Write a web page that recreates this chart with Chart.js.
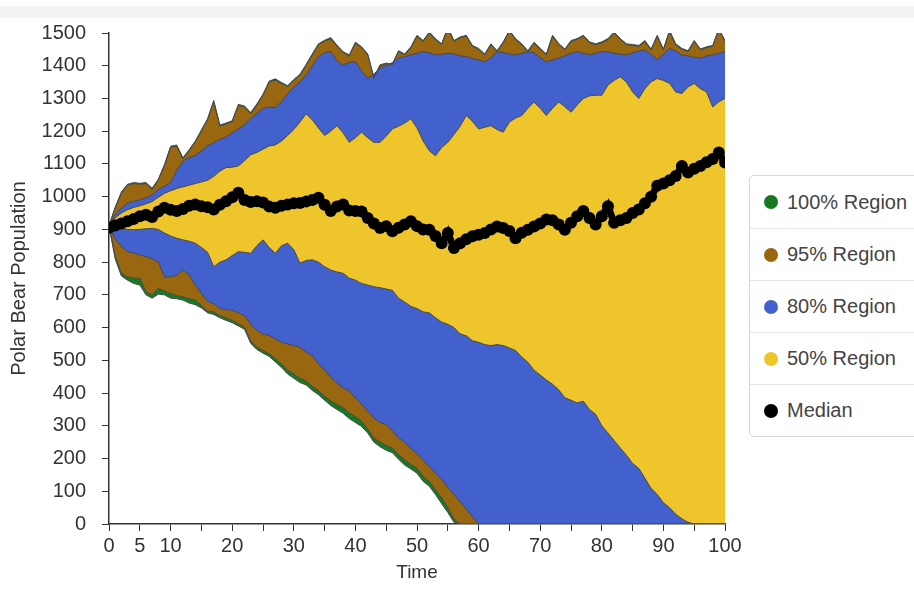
<!DOCTYPE html>
<html>
<head>
<meta charset="utf-8">
<script src="https://cdn.jsdelivr.net/npm/chart.js@4.4.1/dist/chart.umd.min.js"></script>
<style>
  body { margin: 0; background: #fff; overflow: hidden; font-family: "Liberation Sans", Arial, sans-serif; }
  #wrap { position: relative; width: 914px; height: 602px; }
  #topbar { position: absolute; left: 0; top: 6px; width: 914px; height: 12px; background: #f3f3f3; }
  #legend { position: absolute; left: 749px; top: 175px; width: 200px; border: 1px solid #d8d8d8; border-radius: 5px; background: #fff; }
  .row { height: 51px; border-top: 1px solid #e4e4e4; display: flex; align-items: center; padding-left: 14px; font-size: 20px; color: #444; }
  .row:first-child { border-top: none; height: 52px; }
  .dot { width: 14px; height: 14px; border-radius: 50%; margin-right: 9px; }
</style>
</head>
<body>
<div id="wrap">
  <div id="topbar"></div>
  <canvas id="myChart" width="914" height="602"></canvas>
  <div id="legend"></div>
</div>
<script>
// time steps
var time = [0,1,2,3,4,5,6,7,8,9,10,11,12,13,14,15,16,17,18,19,20,21,22,23,24,25,26,27,28,29,
  30,31,32,33,34,35,36,37,38,39,40,41,42,43,44,45,46,47,48,49,50,51,52,53,54,55,56,57,58,59,
  60,61,62,63,64,65,66,67,68,69,70,71,72,73,74,75,76,77,78,79,80,81,82,83,84,85,86,87,88,89,
  90,91,92,93,94,95,96,97,98,99,100];
var xTickLabels = [0, 5, 10, 20, 30, 40, 50, 60, 70, 80, 90, 100];

// band edges
var upper100 = [912,968,1014,1038,1043,1041,1043,1026,1053,1098,
  1154,1158,1119,1143,1170,1204,1238,1294,1219,1225,
  1232,1282,1277,1257,1283,1313,1353,1360,1349,1339,
  1358,1374,1404,1436,1467,1478,1486,1463,1443,1433,
  1472,1458,1436,1365,1403,1408,1405,1446,1436,1458,
  1493,1477,1503,1483,1467,1518,1477,1488,1493,1462,
  1453,1436,1467,1446,1473,1508,1483,1467,1446,1472,
  1453,1436,1493,1468,1451,1477,1483,1493,1473,1467,
  1473,1483,1503,1483,1467,1465,1462,1477,1451,1493,
  1451,1508,1467,1453,1446,1477,1451,1458,1462,1513,
  1477];
var lower100 = [910,810,758,745,735,730,700,690,702,700,
  690,688,684,675,670,660,645,640,630,622,
  615,605,595,552,533,522,512,495,478,458,
  445,432,425,408,395,378,362,350,338,322,
  310,298,278,250,236,225,218,198,180,168,
  155,130,115,90,62,35,5,0,0,0,
  0,0,0,0,0,0,0,0,0,0,0,0,0,0,0,0,0,0,0,0,
  0,0,0,0,0,0,0,0,0,0,0,0,0,0,0,0,0,0,0,0,0];
var upper95 = [910,965,1010,1035,1040,1038,1040,1022,1050,1095,
  1150,1155,1115,1140,1167,1200,1235,1290,1215,1222,
  1228,1279,1274,1253,1280,1310,1350,1356,1346,1336,
  1355,1371,1400,1433,1464,1475,1482,1460,1440,1429,
  1469,1455,1433,1361,1400,1405,1402,1443,1433,1455,
  1490,1474,1500,1480,1464,1515,1474,1485,1490,1459,
  1450,1433,1464,1443,1470,1505,1480,1464,1443,1469,
  1450,1433,1490,1465,1448,1474,1480,1490,1470,1464,
  1470,1480,1500,1480,1464,1462,1459,1474,1448,1490,
  1448,1505,1464,1450,1443,1474,1448,1455,1459,1510,
  1474];
var lower95 = [910,820,766,755,751,751,710,699,720,712,
  704,698,694,688,684,668,650,648,637,630,
  622,612,601,560,540,530,520,505,489,470,
  458,445,437,420,407,390,376,365,355,340,
  328,314,290,263,250,240,232,212,196,182,
  170,145,130,105,80,50,15,0,0,0,
  0,0,0,0,0,0,0,0,0,0,0,0,0,0,0,0,0,0,0,0,
  0,0,0,0,0,0,0,0,0,0,0,0,0,0,0,0,0,0,0,0,0];
var upper80 = [910,945,965,980,986,990,997,1005,1022,1032,
  1043,1080,1108,1120,1125,1140,1156,1165,1175,1182,
  1195,1207,1220,1238,1255,1270,1274,1272,1290,1315,
  1335,1350,1371,1400,1428,1440,1443,1415,1402,1410,
  1412,1385,1361,1375,1392,1400,1410,1423,1428,1433,
  1438,1443,1440,1433,1435,1438,1436,1430,1428,1422,
  1418,1412,1425,1443,1440,1436,1433,1438,1443,1440,
  1425,1412,1418,1423,1430,1438,1443,1438,1433,1438,
  1443,1443,1438,1435,1433,1440,1445,1448,1435,1418,
  1435,1453,1445,1433,1430,1426,1423,1430,1433,1438,
  1443];
var lower80 = [910,870,848,832,828,822,817,810,800,755,
  755,760,776,761,730,704,680,673,658,655,
  653,645,637,610,591,580,576,565,555,550,
  545,540,525,514,489,470,448,430,415,407,
  385,366,345,324,310,304,285,263,250,230,
  215,195,175,155,135,112,90,68,45,22,
  0,0,0,0,0,0,0,0,0,0,0,0,0,0,0,0,0,0,0,0,
  0,0,0,0,0,0,0,0,0,0,0,0,0,0,0,0,0,0,0,0,0];
var upper50 = [910,935,950,960,967,972,978,985,998,1010,
  1018,1025,1030,1035,1040,1045,1050,1062,1078,1089,
  1090,1094,1110,1128,1135,1145,1155,1158,1170,1187,
  1205,1228,1253,1235,1210,1187,1200,1217,1195,1166,
  1180,1197,1180,1166,1166,1185,1207,1215,1225,1238,
  1210,1170,1140,1125,1150,1166,1190,1215,1248,1230,
  1207,1212,1217,1205,1197,1228,1240,1248,1270,1289,
  1270,1248,1270,1289,1275,1258,1280,1300,1308,1310,
  1310,1341,1355,1366,1350,1320,1300,1330,1351,1361,
  1355,1346,1320,1315,1335,1346,1330,1320,1274,1290,
  1300];
var lower50 = [910,905,903,900,899,900,902,903,900,889,
  880,873,868,864,858,845,830,786,800,807,
  820,832,830,827,850,868,845,827,850,858,
  838,797,805,807,800,786,776,770,766,751,
  745,735,730,725,722,718,714,690,678,665,
  658,648,645,630,617,610,600,581,575,560,
  555,548,545,548,545,538,530,510,494,470,
  455,440,427,410,386,378,370,375,350,335,
  300,278,255,232,210,185,170,140,109,90,
  65,50,30,16,5,0,0,0,0,0,
  0];
var median = [905,912,918,925,932,940,945,938,955,966,
  960,956,962,972,976,971,968,961,975,986,
  998,1012,990,984,986,982,970,966,972,976,
  980,981,985,990,997,975,956,970,976,958,
  956,955,935,918,904,910,894,905,915,925,
  910,900,899,880,858,889,843,858,870,879,
  884,889,900,909,904,895,873,890,899,909,
  918,930,928,915,899,920,940,956,935,915,
  940,971,920,928,935,950,961,980,1000,1033,
  1040,1050,1063,1094,1074,1085,1094,1105,1115,1135,
  1104];

var seriesNames = ['100% Region', '95% Region', '80% Region', '50% Region', 'Median'];
var colors = ['#167a22', '#98670f', '#4361cc', '#eec52a', '#000000'];

Chart.defaults.font.family = '"Liberation Sans", Arial, sans-serif';

function pts(values) {
  return time.map(function (t, i) { return { x: t, y: values[i] }; });
}

function edge(label, values, color, fill, order) {
  return {
    label: label,
    data: pts(values),
    borderColor: '#4a4a4a',
    borderWidth: 1,
    backgroundColor: color,
    fill: fill,
    pointRadius: 0,
    tension: 0,
    order: order
  };
}

var ctx = document.getElementById('myChart').getContext('2d');
var myChart = new Chart(ctx, {
  type: 'line',
  data: {
    datasets: [
      edge(seriesNames[0], upper100, colors[0], '+1', 4),
      edge(seriesNames[0] + ' low', lower100, colors[0], false, 4),
      edge(seriesNames[1], upper95, colors[1], '+1', 3),
      edge(seriesNames[1] + ' low', lower95, colors[1], false, 3),
      edge(seriesNames[2], upper80, colors[2], '+1', 2),
      edge(seriesNames[2] + ' low', lower80, colors[2], false, 2),
      edge(seriesNames[3], upper50, colors[3], '+1', 1),
      edge(seriesNames[3] + ' low', lower50, colors[3], false, 1),
      {
        label: seriesNames[4],
        data: pts(median),
        borderColor: colors[4],
        borderWidth: 7,
        pointRadius: 6,
        pointBackgroundColor: colors[4],
        pointBorderWidth: 0,
        fill: false,
        tension: 0,
        order: 0
      }
    ]
  },
  options: {
    responsive: false,
    animation: false,
    layout: { padding: { left: 6, right: 189, top: 33, bottom: 18 } },
    plugins: {
      legend: { display: false },
      tooltip: { enabled: false },
      filler: { drawTime: 'beforeDatasetsDraw' }
    },
    scales: {
      x: {
        type: 'linear',
        min: 0,
        max: 100,
        afterFit: function (s) { s.height = 60; },
        ticks: {
          stepSize: 5,
          autoSkip: false,
          maxRotation: 0,
          color: '#333',
          font: { size: 20 },
          padding: 3,
          callback: function (v) { return xTickLabels.indexOf(v) >= 0 ? String(v) : ''; }
        },
        grid: { drawOnChartArea: false, color: '#333', tickLength: 7 },
        border: { color: '#333', width: 1.5 },
        title: { display: true, text: 'Time', color: '#333', font: { size: 19 }, padding: { top: 0, bottom: 0 } }
      },
      y: {
        min: 0,
        max: 1500,
        afterFit: function (s) { s.width = 103; },
        ticks: {
          stepSize: 100,
          color: '#333',
          font: { size: 20 },
          padding: 16,
          callback: function (v) { return String(v); }
        },
        grid: { drawOnChartArea: false, color: '#333', tickLength: 7 },
        border: { color: '#333', width: 1.5 },
        title: { display: true, text: 'Polar Bear Population', color: '#333', font: { size: 20 }, padding: { top: 1, bottom: 0 } }
      }
    }
  }
});

// html legend
var legend = document.getElementById('legend');
seriesNames.forEach(function (name, i) {
  var row = document.createElement('div');
  row.className = 'row';
  var dot = document.createElement('span');
  dot.className = 'dot';
  dot.style.background = colors[i];
  row.appendChild(dot);
  row.appendChild(document.createTextNode(name));
  legend.appendChild(row);
});
</script>
</body>
</html>
